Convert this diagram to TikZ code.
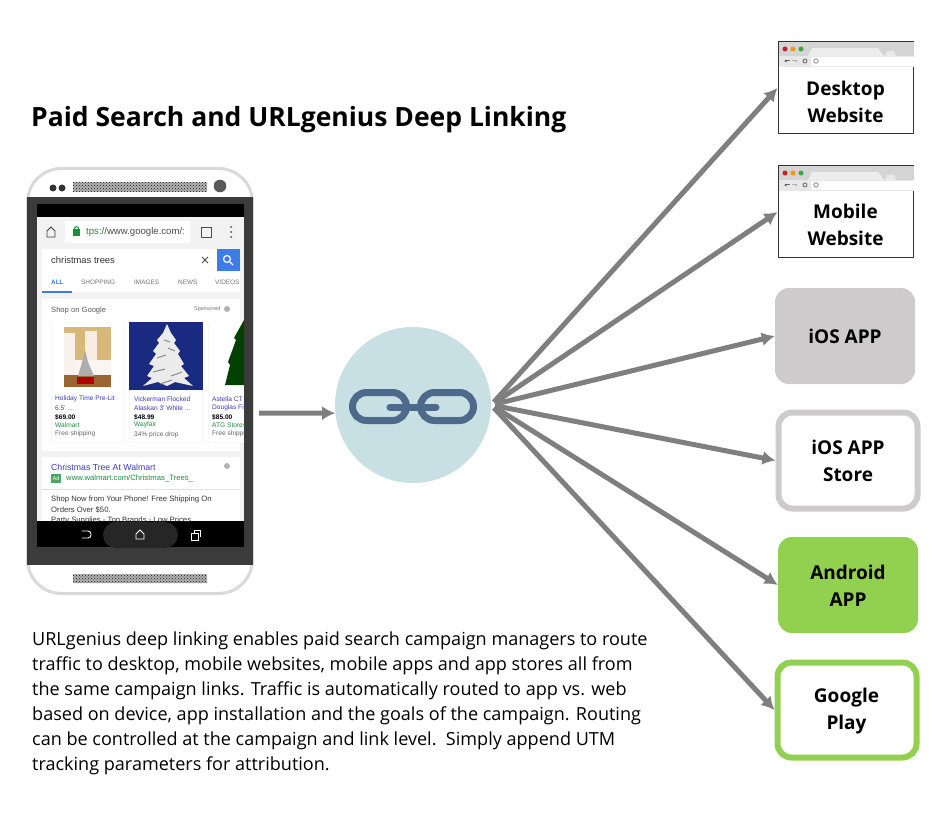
\documentclass[tikz,border=0pt]{standalone}
\usepackage{fontspec}
\setmainfont{Open Sans}
\newfontfamily\screenfont{Liberation Sans}
\usetikzlibrary{arrows.meta}
\usetikzlibrary{calc}
\usetikzlibrary{patterns}

\definecolor{flowgray}{HTML}{7F7F7F}
\definecolor{hubblue}{HTML}{C8E0E4}
\definecolor{linkblue}{HTML}{4D6A8A}
\definecolor{appgray}{HTML}{CDCBCB}
\definecolor{appgreen}{HTML}{92D050}
\definecolor{linkpurple}{HTML}{3B3BB5}
\definecolor{shopgreen}{HTML}{1E8E3E}
\definecolor{googleblue}{HTML}{3D7BE6}
\definecolor{wallwarm}{HTML}{D8B878}
\definecolor{nightblue}{HTML}{1A2A80}

\tikzset{
  flow/.style={draw=flowgray, line width=5pt, -{Latex[length=13pt,width=14pt]}},
  targetlabel/.style={font=\fontsize{19}{27}\selectfont\bfseries, align=center, inner sep=0pt},
  browserframe/.style={rectangle, draw=black!80, fill=white, line width=1pt, inner sep=0pt, minimum width=135pt, minimum height=92pt},
  appbox/.style={rectangle, rounded corners=14pt, inner sep=0pt},
  shot/.style={anchor=west, inner sep=0pt, font=\screenfont\fontsize{6.6}{7}\selectfont},
  tabname/.style={shot, text=black!55, font=\screenfont\fontsize{6.4}{7}\selectfont},
  speaker/.style={pattern=crosshatch dots, pattern color=black!90}
}

% browser chrome at the top of a frame, #1 is the top edge
\newcommand{\browserbar}[1]{
  \fill[black!17] (778.5,#1+.5) rectangle (913.5,#1+14);
  \fill[black!7] (808,#1+14) -- (812,#1+6) -- (878,#1+6) -- (884,#1+14) -- cycle;
  \fill[black!9] (885,#1+14) -- (887,#1+9) -- (894,#1+9) -- (896,#1+14) -- cycle;
  \fill[black!9] (778.5,#1+14) rectangle (913.5,#1+25);
  \fill[white] (811,#1+15) rectangle (913.5,#1+24);
  \fill[red!70!black!85] (785,#1+7) circle (2.5);
  \fill[orange!85!yellow] (793,#1+7) circle (2.5);
  \fill[green!60!black!80] (801,#1+7) circle (2.5);
  \draw[black!60, line width=1pt, -{Latex[length=2.5pt,width=3pt]}] (790,#1+19) -- (784,#1+19);
  \draw[black!30, line width=1pt, -{Latex[length=2.5pt,width=3pt]}] (792,#1+19) -- (798,#1+19);
  \draw[black!60, line width=.8pt] (805,#1+19) circle (2);
  \draw[black!45, line width=.8pt] (816,#1+19) circle (2.2);
}

\begin{document}
\begin{tikzpicture}[x=1pt, y=-1pt]
  \useasboundingbox (0,0) rectangle (948,829);
  \fill[white] (0,0) rectangle (948,829);

  \node[anchor=west, inner sep=0pt, font=\fontsize{26.5}{32}\selectfont\bfseries] (title) at (31,120) {Paid Search and URLgenius Deep Linking};

  % phone
  \node[rectangle, rounded corners=34pt, draw=black!15, fill=white, line width=3pt, inner sep=0pt, minimum width=225pt, minimum height=425pt] (phone) at (140,381) {};
  \fill[black!77] (27,197) rectangle (253,565);
  \fill[black!30] (73,182) rectangle (207,192);
  \fill[black!30] (73,574) rectangle (207,583);
  \fill[speaker] (73,182) rectangle (207,192);
  \fill[speaker] (73,574) rectangle (207,583);
  \fill[black!80] (53,188) circle (3.5);
  \fill[black!80] (62,188) circle (3.5);
  \fill[black!65] (220,186) circle (6.3);

  % screen
  \fill[black] (37,204) rectangle (244,547);
  \begin{scope}
    \clip (37,217) rectangle (244,521);
    \fill[black!5] (37,217) rectangle (244,521);
    \fill[white] (65,221) rectangle (190,243);
    \draw[black!75, line width=.8pt] (47,237) -- (47,231) -- (51,227) -- (55,231) -- (55,237) -- cycle;
    \fill[shopgreen] (73,229) rectangle (80,236);
    \draw[shopgreen, line width=1pt] (76.5,229) circle (2.3);
    \node[shot, font=\screenfont\fontsize{9.6}{10}\selectfont, text=black!70] (urltext) at (86,232) {{\color{shopgreen}tps}://www.google.com/:};
    \draw[black!70, line width=.8pt] (201,227) rectangle (211,237);
    \fill[black!70] (231,227) circle (1) (231,232) circle (1) (231,237) circle (1);

    \fill[white] (42,249) rectangle (240,292);
    \fill[googleblue] (217,249) rectangle (240,271);
    \draw[white, line width=1.2pt] (227,259) circle (3.5) (230,262) -- (233,265);
    \draw[black!70, line width=1pt] (202,257) -- (208,263) (208,257) -- (202,263);
    \node[shot, font=\screenfont\fontsize{9.4}{10}\selectfont, text=black!80] (query) at (51,260) {christmas trees};
    \node[tabname, text=googleblue, font=\screenfont\bfseries\fontsize{6.4}{7}\selectfont] (taball) at (51,282) {ALL};
    \node[tabname] (tabshop) at (81,282) {SHOPPING};
    \node[tabname] (tabimages) at (134,282) {IMAGES};
    \node[tabname] (tabnews) at (178,282) {NEWS};
    \node[tabname] (tabvideos) at (215,282) {VIDEOS};
    \fill[googleblue] (42,291) rectangle (72,293);

    \fill[white] (42,299) rectangle (240,451);
    \node[shot, font=\screenfont\fontsize{7.6}{8}\selectfont, text=black!65] (shopgoogle) at (51,311) {Shop on Google};
    \node[shot, font=\screenfont\fontsize{5.4}{6}\selectfont, text=black!55] (sponsored) at (194,309) {Sponsored};
    \fill[black!30] (227,309) circle (3);

    % product cards
    \fill[black!3] (51,322) rectangle (124,443);
    \fill[black!3] (129,322) rectangle (203,443);
    \fill[black!3] (208,322) rectangle (244,443);
    \fill[white] (52,322) rectangle (123,442);
    \fill[white] (130,322) rectangle (202,442);
    \fill[white] (209,322) rectangle (244,442);

    % room photo
    \fill[wallwarm] (64,327) rectangle (111,387);
    \fill[white!90!brown] (64,333) rectangle (75,375);
    \fill[white!85!brown] (85,331) rectangle (97,360);
    \fill[white!92!brown] (75,360) rectangle (111,375);
    \fill[brown!80!black] (64,375) rectangle (111,387);
    \fill[black!32] (78,376) -- (82,362) -- (85,350) -- (88,362) -- (94,376) -- cycle;
    \fill[red!70!black] (77,377) rectangle (94,384);

    % snow tree
    \fill[nightblue] (129,322) rectangle (203,390);
    \fill[white!92!black] (143,386) -- (152,378) -- (147,376) -- (154,366) -- (149,364) -- (156,354) -- (153,351) -- (159,343) -- (157,340) -- (163,333) -- (167,324) -- (171,333) -- (176,340) -- (174,343) -- (180,351) -- (178,354) -- (184,364) -- (181,366) -- (189,376) -- (184,378) -- (193,386) -- (175,382) -- (167,386) -- (158,382) -- cycle;
    \draw[black!45, line width=1pt] (153,372) -- (165,369) (171,376) -- (182,372) (157,358) -- (166,355) (168,348) -- (175,351) (160,384) -- (172,380) (164,340) -- (170,342);

    % green tree
    \fill[green!25!black] (225,385) -- (230,365) -- (228,362) -- (236,340) -- (234,338) -- (244,320) -- (250,385) -- cycle;

    \node[shot, text=linkpurple] (holidayone) at (55,399) {Holiday Time Pre-Lit};
    \node[shot, text=linkpurple] (holidaytwo) at (55,408) {6.5' ...};
    \node[shot, font=\screenfont\bfseries\fontsize{6.6}{7}\selectfont] (holidayprice) at (55,417) {\$69.00};
    \node[shot, text=shopgreen] (holidaystore) at (55,425) {Walmart};
    \node[shot, text=black!60] (holidayship) at (55,434) {Free shipping};

    \node[shot, text=linkpurple] (vickone) at (134,399) {Vickerman Flocked};
    \node[shot, text=linkpurple] (vicktwo) at (134,408) {Alaskan 3' White ...};
    \node[shot, font=\screenfont\bfseries\fontsize{6.6}{7}\selectfont] (vickprice) at (134,417) {\$48.99};
    \node[shot, text=shopgreen] (vickstore) at (134,425) {Wayfair};
    \node[shot, text=black!60] (vickdrop) at (134,435) {34\% price drop};

    \node[shot, text=linkpurple] (astone) at (212,399) {Astella CT};
    \node[shot, text=linkpurple] (asttwo) at (212,408) {Douglas Fir};
    \node[shot, font=\screenfont\bfseries\fontsize{6.6}{7}\selectfont] (astprice) at (212,417) {\$85.00};
    \node[shot, text=shopgreen] (aststore) at (212,425) {ATG Stores};
    \node[shot, text=black!60] (astship) at (212,434) {Free shipping};

    % ad
    \fill[white] (42,457) rectangle (240,521);
    \node[shot, font=\screenfont\fontsize{8.7}{9}\selectfont, text=linkpurple] (adtitle) at (51,467) {Christmas Tree At Walmart};
    \fill[black!30] (227,466) circle (3);
    \fill[shopgreen!80] (51,474) rectangle (61,483);
    \node[shot, font=\screenfont\fontsize{5.6}{6}\selectfont, text=white, anchor=center] (adbadge) at (56,478.5) {Ad};
    \node[shot, font=\screenfont\fontsize{7.7}{8}\selectfont, text=shopgreen] (adurl) at (66,478) {www.walmart.com/Christmas\_Trees\_};
    \draw[black!12, line width=.7pt] (42,489) -- (240,489);
    \node[shot, font=\screenfont\fontsize{7.7}{8}\selectfont, text=black!80] (adone) at (51,500) {Shop Now from Your Phone! Free Shipping On};
    \node[shot, font=\screenfont\fontsize{7.7}{8}\selectfont, text=black!80] (adtwo) at (51,510) {Orders Over \$50.};
    \node[shot, font=\screenfont\fontsize{7.7}{8}\selectfont, text=black!80] (adthree) at (51,521) {Party Supplies - Top Brands - Low Prices};
  \end{scope}

  % nav bar
  \fill[black!85, rounded corners=13pt] (103,522) rectangle (178,548);
  \draw[white, line width=.9pt, rounded corners=3pt] (82,531) -- (91,531) -- (91,538) -- (82,538);
  \draw[white, line width=.9pt] (136,539) -- (136,534) -- (140,530) -- (144,534) -- (144,539) -- cycle;
  \draw[white, line width=.9pt] (191,533) rectangle (198,540) (194,533) -- (194,530) -- (200,530) -- (200,537);

  % hub
  \node[circle, fill=hubblue, inner sep=0pt, minimum size=156pt] (hub) at (413,405) {};
  \draw[linkblue, line width=7pt, rounded corners=14pt] (352.5,392.5) rectangle (406.5,420.5);
  \draw[linkblue, line width=7pt, rounded corners=14pt] (420.5,392.5) rectangle (473.5,420.5);
  \draw[linkblue, line width=7pt, line cap=round] (390,407) -- (436,407);

  % targets
  \node[browserframe] (desktop) at (845.5,88) {};
  \browserbar{42}
  \node[targetlabel] (desktoplabel) at (845.5,102) {Desktop\\Website};

  \node[browserframe] (mobile) at (845.5,212) {};
  \browserbar{166}
  \node[targetlabel] (mobilelabel) at (845.5,225) {Mobile\\Website};

  \node[appbox, fill=appgray, minimum width=140pt, minimum height=96pt, targetlabel] (ios) at (845,336) {iOS APP};
  \node[appbox, draw=appgray, line width=6pt, fill=white, minimum width=139pt, minimum height=96pt, targetlabel] (store) at (848,460.5) {iOS APP\\Store};
  \node[appbox, fill=appgreen, minimum width=140pt, minimum height=96pt] (android) at (848,585) {};
  \node[targetlabel] (androidlabel) at (848,586) {Android\\APP};
  \node[appbox, draw=appgreen, line width=6pt, fill=white, minimum width=139pt, minimum height=95pt] (play) at (847,710) {};
  \node[targetlabel] (playlabel) at (846.5,711.5) {Google\\Play};

  % connectors
  \coordinate (phoneout) at (259,413);
  \draw[flow] (phoneout) -- (hub.186);
  \draw[flow, shorten <=4pt] (hub.east) -- (desktop.west);
  \draw[flow, shorten <=4pt] (hub.east) -- (mobile.west);
  \draw[flow, shorten <=4pt] (hub.east) -- (ios.west);
  \draw[flow, shorten <=4pt] (hub.east) -- (store.west);
  \draw[flow, shorten <=4pt] (hub.east) -- (android.west);
  \draw[flow, shorten <=4pt] (hub.east) -- (play.west);

  \node[anchor=north west, inner sep=0pt, align=left, font=\fontsize{18.05}{25}\selectfont] (summary) at (32,632) {URLgenius deep linking enables paid search campaign managers to route\\
  traffic to desktop, mobile websites, mobile apps and app stores all from\\
  the same campaign links. Traffic is automatically routed to app vs. web\\
  based on device, app installation and the goals of the campaign. Routing\\
  can be controlled at the campaign and link level.\ \ Simply append UTM\\
  tracking parameters for attribution.};
\end{tikzpicture}
\end{document}
